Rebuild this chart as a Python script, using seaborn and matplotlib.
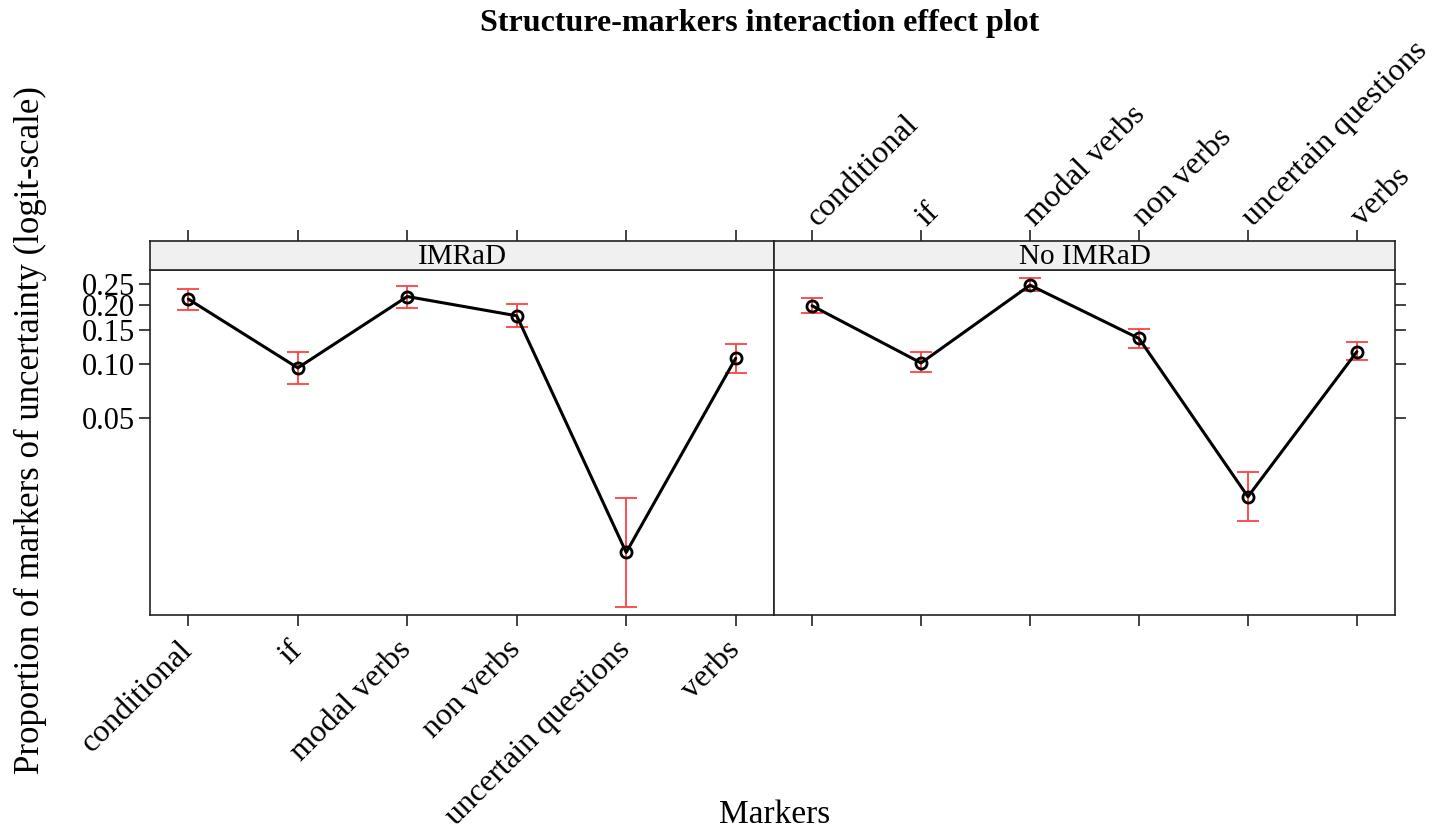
import numpy as np
import pandas as pd
import matplotlib
matplotlib.use("Agg")
import matplotlib.pyplot as plt
from matplotlib.ticker import FixedLocator, FixedFormatter, NullLocator
import seaborn as sns

# Marker categories and fitted proportions with 95% confidence limits
markers = ["conditional", "if", "modal verbs", "non verbs", "uncertain questions", "verbs"]
structures = ["IMRaD", "No IMRaD"]

imrad_fit = [0.213, 0.095, 0.219, 0.177, 0.0082, 0.107]
imrad_lower = [0.189, 0.078, 0.194, 0.155, 0.0039, 0.089]
imrad_upper = [0.237, 0.116, 0.245, 0.202, 0.0171, 0.128]

noimrad_fit = [0.198, 0.101, 0.247, 0.136, 0.0175, 0.116]
noimrad_lower = [0.183, 0.090, 0.232, 0.122, 0.0126, 0.105]
noimrad_upper = [0.215, 0.116, 0.265, 0.152, 0.0243, 0.131]

y_ticks = [0.05, 0.10, 0.15, 0.20, 0.25]
y_tick_labels = ["0.05", "0.10", "0.15", "0.20", "0.25"]

df = pd.concat([
    pd.DataFrame({"Markers": markers, "Structure": structures[0],
                  "fit": imrad_fit, "lower": imrad_lower, "upper": imrad_upper}),
    pd.DataFrame({"Markers": markers, "Structure": structures[1],
                  "fit": noimrad_fit, "lower": noimrad_lower, "upper": noimrad_upper}),
], ignore_index=True)

sns.set_theme(style="white")
plt.rcParams["font.family"] = ["Liberation Serif", "DejaVu Serif"]
plt.rcParams["axes.linewidth"] = 1.2
plt.rcParams["xtick.major.width"] = 1.2
plt.rcParams["ytick.major.width"] = 1.2
plt.rcParams["xtick.major.size"] = 8
plt.rcParams["ytick.major.size"] = 8
plt.rcParams["xtick.color"] = "#222222"
plt.rcParams["ytick.color"] = "#222222"

W, H = 1447, 832
fig = plt.figure(figsize=(W / 100, H / 100), dpi=100)


def px_axes(x0, y0, x1, y1):
    return fig.add_axes([x0 / W, 1 - y1 / H, (x1 - x0) / W, (y1 - y0) / H])


panel_x = [(150, 774), (774, 1395)]
panel_top, panel_bottom, strip_top = 270, 615, 241
y_lim = (0.00348, 0.2878)
x_lim = (-0.35, 5.35)
xtick_fs = 23
ytick_fs = 22

for i, structure in enumerate(structures):
    x0, x1 = panel_x[i]
    ax = px_axes(x0, panel_top, x1, panel_bottom)
    sub = df[df["Structure"] == structure]

    ax.set_yscale("logit")
    ax.errorbar(sub["Markers"], sub["fit"],
                yerr=[sub["fit"] - sub["lower"], sub["upper"] - sub["fit"]],
                fmt="none", ecolor="#ff4040", elinewidth=1.3, capsize=8,
                capthick=1.3, zorder=2)
    sns.lineplot(data=sub, x="Markers", y="fit", ax=ax, color="black",
                 linewidth=2.2, marker="o", markersize=8,
                 markerfacecolor="none", markeredgecolor="black",
                 markeredgewidth=2, sort=False, zorder=3)

    ax.set_xlim(*x_lim)
    ax.set_ylim(*y_lim)
    ax.yaxis.set_major_locator(FixedLocator(y_ticks))
    ax.yaxis.set_major_formatter(FixedFormatter(y_tick_labels))
    ax.yaxis.set_minor_locator(NullLocator())
    ax.set_xlabel("")
    ax.set_ylabel("")
    for sp in ax.spines.values():
        sp.set_color("#222222")

    ax.tick_params(axis="both", which="major", direction="out",
                   colors="#222222")
    ax.tick_params(axis="y", labelsize=ytick_fs, pad=3)
    ax.tick_params(axis="x", pad=14)
    ax.set_xticks(range(len(markers)))
    if i == 0:
        ax.tick_params(axis="y", left=True, right=False, labelleft=True)
        ax.tick_params(axis="x", bottom=True, labelbottom=True)
        ax.set_xticklabels(markers, rotation=45, ha="right", va="center",
                           rotation_mode="anchor", fontsize=xtick_fs)
        for lab in ax.get_xticklabels():
            lab.set_color("black")
    else:
        ax.tick_params(axis="y", left=False, right=True, labelleft=False,
                       labelright=False)
        ax.tick_params(axis="x", bottom=True, labelbottom=False)
    for lab in ax.get_yticklabels():
        lab.set_color("black")

    # strip with the panel name, carrying the top axis ticks
    st = px_axes(x0, strip_top, x1, panel_top)
    st.set_facecolor("#f0f0f0")
    st.set_xlim(*x_lim)
    st.set_ylim(0, 1)
    st.set_yticks([])
    st.set_xticks(range(len(markers)))
    for sp in st.spines.values():
        sp.set_color("#222222")
    st.tick_params(axis="x", bottom=False, labelbottom=False, top=True,
                   direction="out", colors="#222222")
    if i == 1:
        st.tick_params(axis="x", labeltop=True, pad=6)
        st.set_xticklabels(markers, rotation=45, ha="left", va="center",
                           rotation_mode="anchor", fontsize=xtick_fs)
        for lab in st.get_xticklabels():
            lab.set_color("black")
    else:
        st.tick_params(axis="x", labeltop=False)
    st.text(0.5, 0.45, structure, transform=st.transAxes, ha="center",
            va="center", fontsize=21, color="black")

fig.text(760 / W, 1 - 24 / H, "Structure-markers interaction effect plot",
         ha="center", va="center", fontsize=23, fontweight="bold", color="black")
fig.text(30 / W, 1 - 430 / H, "Proportion of markers of uncertainty (logit-scale)",
         ha="center", va="center", rotation=90, fontsize=25, color="black")
fig.text(775 / W, 1 - 815 / H, "Markers", ha="center", va="center",
         fontsize=24, color="black")

fig.savefig("out.png", dpi=100, facecolor="white")
